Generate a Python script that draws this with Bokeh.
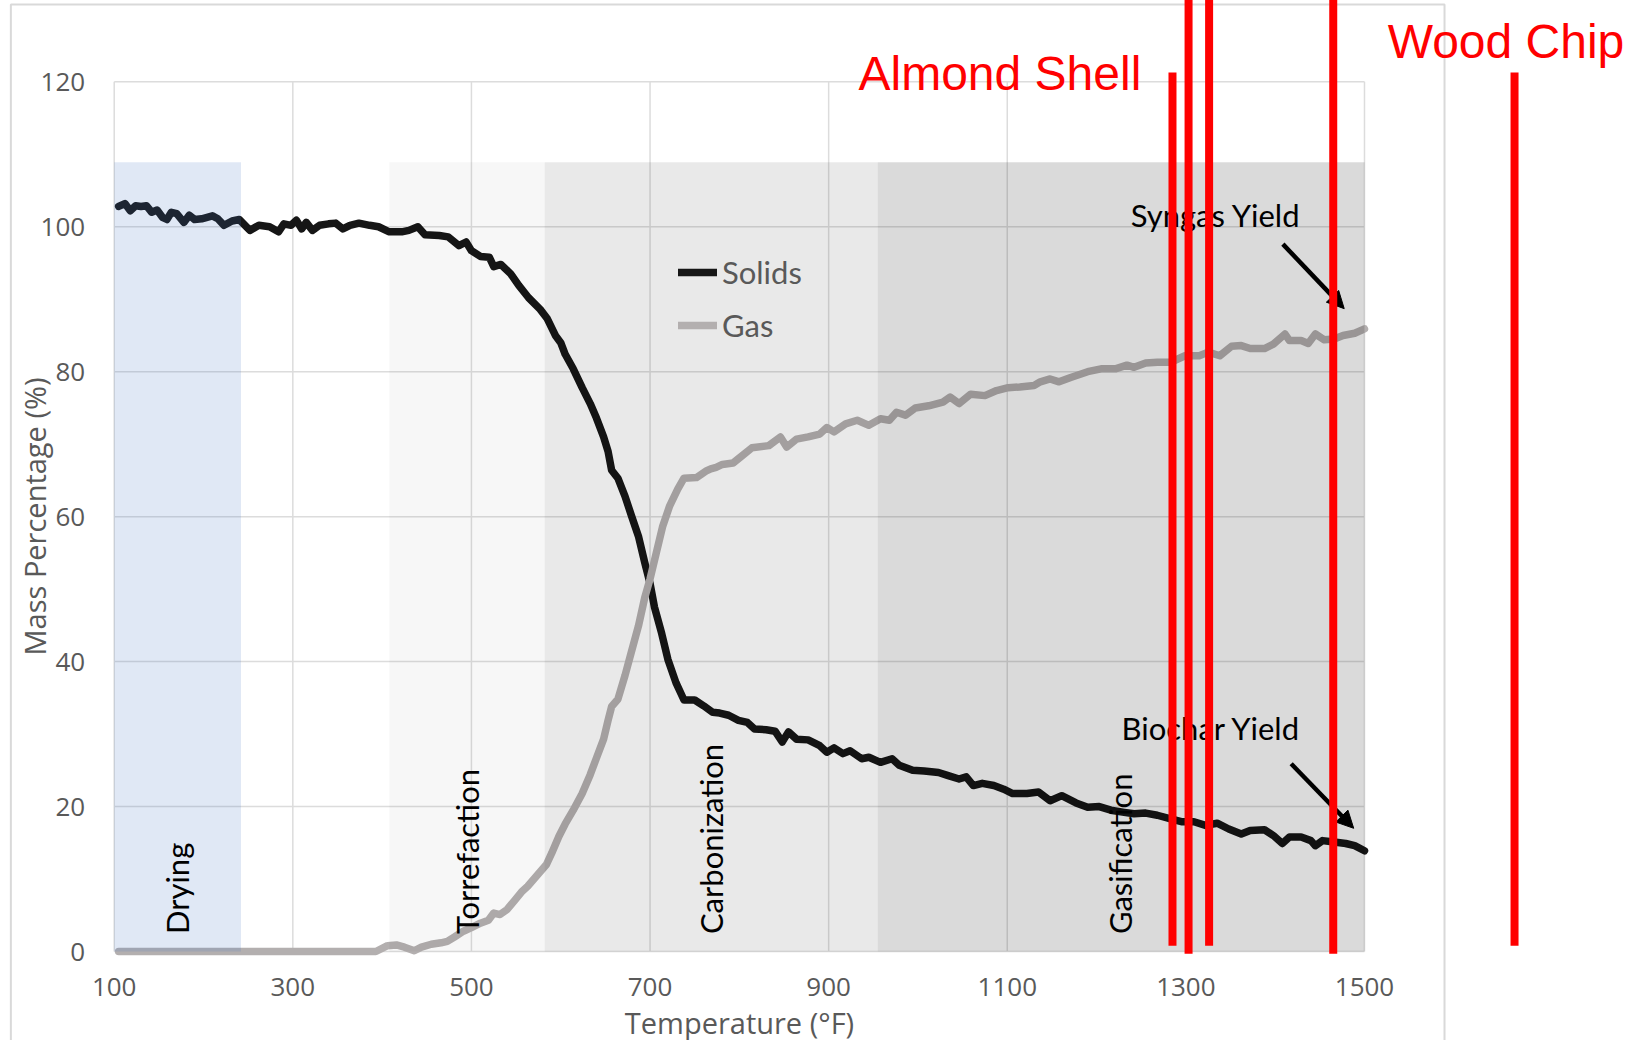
import math
from bokeh.plotting import figure
from bokeh.models import (LinearAxis, FixedTicker, Range1d, Legend, LegendItem,
                          Arrow, NormalHead, ColumnDataSource)
from bokeh.core.properties import value
from bokeh.embed import file_html
from bokeh.resources import INLINE

# ---------------- data ----------------
solids_temp = [105, 112, 118, 124, 130, 136, 142, 148, 154, 159,
               164, 170, 178, 184, 190, 198, 210, 216, 223, 232,
               240, 252, 262, 274, 284, 290, 298, 304, 310, 315,
               322, 330, 340, 348, 356, 364, 374, 386, 396, 408,
               422, 430, 440, 448, 464, 474, 486, 494, 500, 510,
               520, 525, 533, 544, 553, 564, 577, 585, 594, 600,
               605, 614, 624, 633, 640, 648, 653, 657, 664, 672,
               679, 687, 694, 700, 705, 713, 720, 729, 738, 750,
               760, 770, 778, 788, 799, 809, 817, 830, 840, 848,
               855, 864, 877, 890, 898, 906, 916, 924, 937, 945,
               958, 971, 979, 994, 1007, 1023, 1033, 1046, 1054, 1062,
               1072, 1085, 1096, 1106, 1122, 1135, 1148, 1161, 1177, 1190,
               1203, 1216, 1231, 1242, 1255, 1268, 1283, 1296, 1309, 1322,
               1335, 1348, 1362, 1372, 1388, 1398, 1408, 1416, 1429, 1440,
               1445, 1453, 1466, 1479, 1489, 1500]
solids_pct = [102.8, 103.2, 102.2, 102.9, 102.8, 102.9, 102.0, 102.3, 101.3, 101.0,
              102.0, 101.8, 100.6, 101.6, 101.0, 101.1, 101.5, 101.1, 100.2, 100.8,
              101.0, 99.5, 100.2, 100.0, 99.3, 100.4, 100.2, 100.9, 99.7, 100.6,
              99.5, 100.2, 100.4, 100.5, 99.7, 100.2, 100.5, 100.2, 100.0, 99.3,
              99.3, 99.5, 100.0, 98.9, 98.8, 98.6, 97.4, 97.9, 96.7, 95.9,
              95.8, 94.5, 94.8, 93.5, 91.9, 90.2, 88.6, 87.3, 85.0, 84.0,
              82.4, 80.4, 77.8, 75.6, 73.6, 71.0, 69.0, 66.4, 65.3, 62.8,
              60.2, 57.3, 53.7, 50.8, 47.5, 43.9, 40.3, 37.1, 34.7, 34.7,
              33.9, 33.0, 32.9, 32.6, 31.9, 31.6, 30.7, 30.6, 30.4, 28.9,
              30.3, 29.3, 29.2, 28.4, 27.5, 28.1, 27.3, 27.7, 26.6, 26.8,
              26.1, 26.6, 25.7, 25.0, 24.9, 24.7, 24.3, 23.8, 24.1, 22.9,
              23.2, 22.9, 22.4, 21.8, 21.8, 22.0, 20.8, 21.5, 20.5, 19.9,
              20.0, 19.5, 19.2, 19.0, 19.1, 18.8, 18.3, 17.9, 17.9, 17.4,
              17.7, 16.9, 16.2, 16.7, 16.8, 16.0, 14.9, 15.8, 15.8, 15.3,
              14.6, 15.3, 15.1, 14.9, 14.6, 13.9]

gas_temp = [105, 150, 200, 250, 300, 350, 393, 406, 416, 425,
            436, 444, 455, 466, 473, 481, 491, 500, 510, 519,
            525, 532, 540, 548, 556, 563, 570, 577, 584, 590,
            598, 605, 614, 624, 633, 640, 648, 653, 657, 664,
            672, 679, 687, 694, 700, 707, 714, 722, 731, 738,
            752, 763, 768, 774, 781, 793, 801, 814, 833, 846,
            853, 864, 877, 890, 898, 906, 919, 932, 945, 958,
            968, 976, 986, 997, 1012, 1028, 1036, 1046, 1059, 1075,
            1088, 1101, 1114, 1130, 1137, 1148, 1158, 1171, 1190, 1205,
            1221, 1234, 1242, 1255, 1268, 1283, 1299, 1315, 1325, 1338,
            1351, 1362, 1372, 1388, 1398, 1411, 1416, 1429, 1437, 1445,
            1455, 1466, 1476, 1489, 1500]
gas_pct = [0, 0, 0, 0, 0, 0, 0, 0.8, 0.9, 0.6,
           0.1, 0.6, 1.0, 1.2, 1.4, 2.0, 2.8, 3.3, 3.9, 4.3,
           5.3, 5.1, 5.8, 7.0, 8.2, 9.0, 10.0, 11.0, 12.0, 13.6,
           15.9, 17.6, 19.5, 21.8, 24.4, 26.7, 29.3, 31.9, 33.8, 34.8,
           38.1, 41.3, 44.9, 48.8, 51.4, 55.0, 58.6, 61.5, 63.8, 65.3,
           65.4, 66.3, 66.6, 66.8, 67.2, 67.4, 68.2, 69.5, 69.8, 71.0,
           69.6, 70.7, 71.0, 71.4, 72.3, 71.7, 72.8, 73.3, 72.6, 73.5,
           73.3, 74.4, 74.0, 75.0, 75.3, 75.8, 76.5, 75.6, 76.9, 76.7,
           77.4, 77.8, 77.9, 78.1, 78.6, 79.0, 78.6, 79.2, 80.0, 80.4,
           80.4, 80.9, 80.6, 81.2, 81.3, 81.3, 82.2, 82.2, 82.7, 82.2,
           83.5, 83.6, 83.2, 83.2, 83.8, 85.2, 84.3, 84.3, 83.9, 85.2,
           84.4, 84.5, 85.0, 85.3, 85.9]

x_ticks = [100, 300, 500, 700, 900, 1100, 1300, 1500]
y_ticks = [0, 20, 40, 60, 80, 100, 120]

zone_names = ["Drying", "Torrefaction", "Carbonization", "Gasification"]
zone_start = [100, 408, 582, 955]
zone_end = [242, 582, 955, 1500]
zone_top = 108.9
zone_label_x = [169.9, 494.5, 767.8, 1226.1]
zone_label_y = 2.4

yield_labels = ["Syngas Yield", "Biochar Yield"]
yield_label_x = [1238.2, 1228.0]
yield_label_y = [101.6, 30.8]
arrow_x0 = [1408.6, 1417.9]
arrow_y0 = [97.6, 25.9]
arrow_x1 = [1477.3, 1487.9]
arrow_y1 = [88.7, 17.0]

feedstocks = ["Almond Shell", "Wood Chip"]
feedstock_x = [933.4, 1526.0]
feedstock_y = [121.1, 125.6]
marker_temp = [1285, 1303, 1326, 1465, 1668]
marker_top = [121.3, 132.0, 132.0, 132.0, 121.3]
marker_bottom = [0.8, -0.3, 0.8, -0.3, 0.8]

# ---------------- geometry ----------------
W, H = 1635, 1040
PX_X = 0.89307          # px per degF
PX_Y = 7.2475           # px per %
X0 = 100 - 113.7 / PX_X
X1 = X0 + W / PX_X
Y1 = 951 / PX_Y
Y0 = Y1 - H / PX_Y

p = figure(width=W, height=H, x_range=Range1d(X0, X1), y_range=Range1d(Y0, Y1),
           output_backend="svg", toolbar_location=None,
           x_axis_type=None, y_axis_type=None)
p.min_border = 0
p.min_border_left = 0
p.min_border_right = 0
p.min_border_top = 0
p.min_border_bottom = 0
p.outline_line_color = None
p.background_fill_color = "white"
p.border_fill_color = "white"
p.xgrid.visible = False
p.ygrid.visible = False

# outer chart border
p.quad(left=[-15.7], right=[1589.6], top=[130.66], bottom=[-30.0],
       fill_color=None, line_color="#d9d9d9", line_width=2, level="underlay")

# grid lines
p.segment(x0=x_ticks, y0=0, x1=x_ticks, y1=120, line_color="#dcdcdc", line_width=1.5)
p.segment(x0=100, y0=y_ticks, x1=1500, y1=y_ticks, line_color="#dcdcdc", line_width=1.5)

# data lines
r_sol = p.line(solids_temp, solids_pct, line_color="#161616", line_width=7.5,
               line_join="round", line_cap="round")
r_gas = p.line(gas_temp, gas_pct, line_color="#b3afaf", line_width=7.5,
               line_join="round", line_cap="round")

# zone shading (drawn on top, translucent)
zsrc = ColumnDataSource(dict(left=zone_start, right=zone_end,
                             color=["#4472c4", "#000000", "#000000", "#000000"],
                             alpha=[0.165, 0.032, 0.088, 0.146]))
p.quad(left="left", right="right", bottom=0, top=zone_top, source=zsrc,
       fill_color="color", fill_alpha="alpha", line_color=None)

# zone labels
p.text(x=zone_label_x, y=zone_label_y, text=zone_names, angle=math.pi / 2,
       text_font=value("Lato"), text_font_size=value("31px"), text_color="black",
       text_align="left", text_baseline="middle")

# yield labels
p.text(x=yield_label_x, y=yield_label_y, text=yield_labels,
       text_font=value("Lato"), text_font_size=value("31px"), text_color="black",
       text_align="left", text_baseline="alphabetic")

for xa, ya, xb, yb in zip(arrow_x0, arrow_y0, arrow_x1, arrow_y1):
    p.add_layout(Arrow(end=NormalHead(size=17, fill_color="black", line_color="black"),
                       x_start=xa, y_start=ya, x_end=xb, y_end=yb,
                       line_color="black", line_width=4.5))

# feedstock markers
p.text(x=feedstock_x, y=feedstock_y, text=feedstocks,
       text_font=value("Liberation Sans"), text_font_size=value("48px"),
       text_color="#ff0000", text_align="left", text_baseline="alphabetic")
p.segment(x0=marker_temp, y0=marker_bottom, x1=marker_temp, y1=marker_top,
          line_color="#ff0000", line_width=8, level="overlay")

# axes
xaxis = LinearAxis(fixed_location=0, bounds=(100, 1500),
                   ticker=FixedTicker(ticks=x_ticks),
                   axis_label="Temperature (°F)")
yaxis = LinearAxis(fixed_location=100, bounds=(0, 120),
                   ticker=FixedTicker(ticks=y_ticks),
                   axis_label="Mass Percentage (%)")
for ax in (xaxis, yaxis):
    ax.axis_line_color = None
    ax.major_tick_line_color = None
    ax.minor_tick_line_color = None
    ax.major_label_text_font = "Open Sans"
    ax.major_label_text_font_size = "26px"
    ax.major_label_text_color = "#595959"
    ax.axis_label_text_font = "Open Sans"
    ax.axis_label_text_font_size = "29px"
    ax.axis_label_text_font_style = "normal"
    ax.axis_label_text_color = "#595959"
xaxis.major_label_standoff = 20
xaxis.axis_label_standoff = 4
yaxis.major_label_standoff = 23
yaxis.axis_label_standoff = -16
p.add_layout(xaxis, "below")
p.add_layout(yaxis, "left")

# legend
legend = Legend(items=[LegendItem(label="Solids", renderers=[r_sol]),
                       LegendItem(label="Gas", renderers=[r_gas])],
                location=(678, 695), orientation="vertical",
                background_fill_alpha=0, border_line_color=None,
                padding=0, margin=0, spacing=13,
                glyph_width=39, glyph_height=40, label_height=40,
                label_standoff=5,
                label_text_font="Lato", label_text_font_size="31px",
                label_text_color="#595959")
p.add_layout(legend, "center")

open("out.html", "w").write(file_html(p, INLINE))
